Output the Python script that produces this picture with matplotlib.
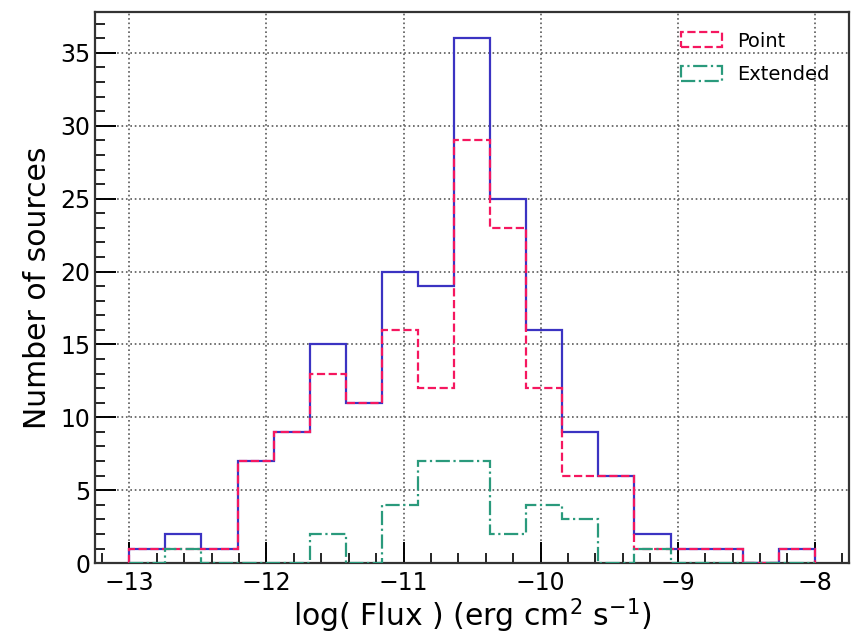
import numpy as np
import matplotlib
matplotlib.use('Agg')
import matplotlib.pyplot as plt
from matplotlib.patches import Patch
from matplotlib.ticker import MultipleLocator

# Histogram counts, 19 bins between -13 and -8
bin_lo = -13.0
bin_hi = -8.0
total = [1, 2, 1, 7, 9, 15, 11, 20, 19, 36, 25, 16, 9, 6, 2, 1, 1, 0, 1]
point = [1, 1, 1, 7, 9, 13, 11, 16, 12, 29, 23, 12, 6, 6, 1, 1, 1, 0, 1]
extended = [0, 1, 0, 0, 0, 2, 0, 4, 7, 7, 2, 4, 3, 0, 1, 0, 0, 0, 0]

c_total = '#3b33c2'
c_point = '#f5175f'
c_ext = '#2a9a7c'

edges = np.linspace(bin_lo, bin_hi, len(total) + 1)

fig = plt.figure(figsize=(8.56, 6.37), dpi=100)
ax = fig.add_axes([0.111, 0.116, 0.881, 0.865])

ax.stairs(total, edges, color=c_total, lw=1.6, zorder=3)
ax.stairs(point, edges, color=c_point, lw=1.6, ls='--', zorder=4)
ax.stairs(extended, edges, color=c_ext, lw=1.6, ls='-.', zorder=5)

ax.set_xlim(-13.25, -7.75)
ax.set_ylim(0, 37.8)

ax.xaxis.set_major_locator(MultipleLocator(1))
ax.xaxis.set_minor_locator(MultipleLocator(0.2))
ax.yaxis.set_major_locator(MultipleLocator(5))
ax.yaxis.set_minor_locator(MultipleLocator(1))
ax.tick_params(which='major', direction='in', length=15, width=1.4, labelsize=17)
ax.tick_params(which='minor', direction='in', length=7, width=1.2)
ax.tick_params(axis='x', pad=6)

ax.grid(True, which='major', ls=':', color='0.35', lw=1.2)
for s in ax.spines.values():
    s.set_linewidth(1.6)
    s.set_color('0.2')

ax.set_xlabel(r'log( Flux ) (erg cm$^2$ s$^{-1}$)', fontsize=21.5, labelpad=1)
ax.set_ylabel('Number of sources', fontsize=21.5, labelpad=6)

# rectangle handles like a step histogram legend
handles = [Patch(facecolor='none', edgecolor=c_point, ls='--', lw=1.6),
           Patch(facecolor='none', edgecolor=c_ext, ls='-.', lw=1.6)]
ax.legend(handles, ['Point', 'Extended'], loc='upper right', frameon=False,
          fontsize=14, handlelength=2.1, handleheight=0.8, handletextpad=0.8,
          borderaxespad=0.6, labelspacing=0.75)

fig.savefig('out.png', dpi=100)
